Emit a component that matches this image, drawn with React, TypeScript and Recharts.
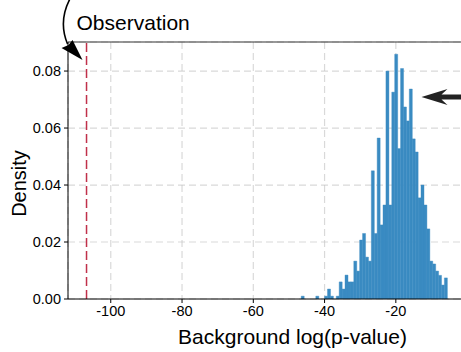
import {
  ComposedChart,
  Bar,
  XAxis,
  YAxis,
  CartesianGrid,
  ReferenceLine,
  ReferenceDot,
} from "recharts";

// histogram bins of the background log(p-value), bin width 0.82
const binCenters = [
  -46.15, -45.33, -44.51, -43.69, -42.87, -42.05, -41.23, -40.41, -39.59, -38.77,
  -37.95, -37.13, -36.31, -35.49, -34.67, -33.85, -33.03, -32.21, -31.39, -30.57,
  -29.75, -28.93, -28.11, -27.29, -26.47, -25.65, -24.83, -24.01, -23.19, -22.37,
  -21.55, -20.73, -19.91, -19.09, -18.27, -17.45, -16.63, -15.81, -14.99, -14.17,
  -13.35, -12.53, -11.71, -10.89, -10.07, -9.25, -8.43, -7.61, -6.79, -5.97,
];
const density = [
  0.001, 0, 0, 0, 0, 0.001, 0, 0, 0.001, 0.0035,
  0.001, 0, 0.001, 0.006, 0.0035, 0.0084, 0.006, 0.006, 0.0133, 0.0098,
  0.0207, 0.023, 0.0147, 0.0133, 0.045, 0.023, 0.0565, 0.026, 0.033, 0.08,
  0.033, 0.0726, 0.0859, 0.0528, 0.0809, 0.0674, 0.0625, 0.0737, 0.0562, 0.0516,
  0.0355, 0.04, 0.033, 0.0246, 0.0133, 0.0123, 0.0098, 0.0083, 0.0049, 0.0074,
];
const xTicks = [-100, -80, -60, -40, -20];
const yTicks = [0, 0.02, 0.04, 0.06, 0.08];

const X_DOMAIN: [number, number] = [-112, 14];
const Y_DOMAIN: [number, number] = [0, 0.0902];
const OBSERVED = -106.8;
const POINTER_AT: [number, number] = [-12.8, 0.0709];

const BAR_COLOR = "#3a8bc2";
const FONT = '"Liberation Sans", Arial, sans-serif';

const data = binCenters.map((x, i) => ({ x, density: density[i] }));

// curved arrow + caption pointing at the observed value
function ObservationNote({ cx, cy }: { cx?: number; cy?: number }) {
  if (cx == null || cy == null) return null;
  return (
    <g>
      <text x={cx - 10} y={cy - 12} fontSize={21} fontFamily={FONT} fill="#000">
        Observation
      </text>
      <path
        d={`M ${cx - 15} ${cy - 46} Q ${cx - 29} ${cy - 22} ${cx - 19} ${cy + 2}`}
        fill="none"
        stroke="#000"
        strokeWidth={1.6}
      />
      <polygon
        points={`${cx - 4},${cy + 18} ${cx - 25},${cy + 6} ${cx - 18},${cy + 3} ${cx - 14},${cy - 2}`}
        fill="#000"
      />
    </g>
  );
}

// straight arrow pointing left at the histogram peak
function PeakPointer({ cx, cy }: { cx?: number; cy?: number }) {
  if (cx == null || cy == null) return null;
  const pts = [
    [0, 0],
    [26, -8],
    [20, -2.5],
    [80, -2.5],
    [80, 2.5],
    [20, 2.5],
    [26, 8],
  ]
    .map(([dx, dy]) => `${cx + dx},${cy + dy}`)
    .join(" ");
  return <polygon points={pts} fill="#222" />;
}

function DensityLabel({ viewBox }: any) {
  const x = viewBox.x + 26;
  const y = viewBox.y + viewBox.height / 2 + 13;
  return (
    <text
      x={x}
      y={y}
      transform={`rotate(-90, ${x}, ${y})`}
      textAnchor="middle"
      fontSize={20}
      fontFamily={FONT}
      fill="#000"
    >
      Density
    </text>
  );
}

export default function App() {
  return (
    <div
      style={{
        position: "fixed",
        left: 0,
        top: 0,
        width: 461,
        height: 352,
        overflow: "hidden",
        background: "#fff",
      }}
    >
      <ComposedChart
        width={517}
        height={352}
        data={data}
        margin={{ top: 42, right: 0, bottom: 0, left: 0 }}
        barCategoryGap={0}
        barGap={0}
      >
        <XAxis
          dataKey="x"
          type="number"
          domain={X_DOMAIN}
          allowDataOverflow
          ticks={xTicks}
          height={53}
          tickSize={4}
          tickMargin={3}
          stroke="#000"
          tick={{ fill: "#000", fontSize: 14.5, fontFamily: FONT }}
          label={{
            value: "Background log(p-value)",
            position: "insideBottom",
            offset: 8,
            fontSize: 21,
            fontFamily: FONT,
            fill: "#000",
          }}
        />
        <YAxis
          type="number"
          domain={Y_DOMAIN}
          allowDataOverflow
          ticks={yTicks}
          width={68}
          tickSize={4}
          tickMargin={3}
          stroke="#000"
          tick={{ fill: "#000", fontSize: 14.5, fontFamily: FONT }}
          tickFormatter={(v: number) => v.toFixed(2)}
          label={<DensityLabel />}
        />
        <Bar
          dataKey="density"
          fill={BAR_COLOR}
          stroke={BAR_COLOR}
          strokeWidth={0.4}
          isAnimationActive={false}
        />
        <CartesianGrid
          stroke="#c4c4c4"
          strokeOpacity={0.65}
          strokeDasharray="7 4"
          strokeWidth={1.2}
        />
        <ReferenceLine y={Y_DOMAIN[1]} stroke="#333" strokeWidth={1.2} />
        <ReferenceLine
          x={OBSERVED}
          stroke="#c0304a"
          strokeWidth={1.5}
          strokeDasharray="9 4"
        />
        <ReferenceDot
          x={OBSERVED}
          y={Y_DOMAIN[1]}
          ifOverflow="visible"
          shape={<ObservationNote />}
        />
        <ReferenceDot
          x={POINTER_AT[0]}
          y={POINTER_AT[1]}
          ifOverflow="visible"
          shape={<PeakPointer />}
        />
      </ComposedChart>
    </div>
  );
}
